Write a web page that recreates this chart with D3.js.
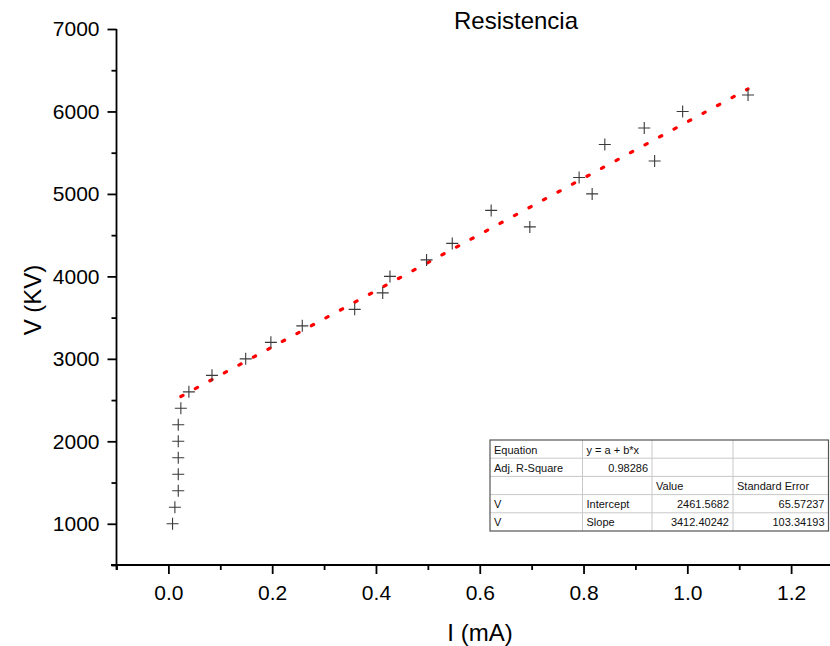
<!DOCTYPE html>
<html>
<head>
<meta charset="utf-8">
<script src="https://cdn.jsdelivr.net/npm/d3@7"></script>
<style>
  html, body { margin: 0; padding: 0; background: #fff; }
  svg { display: block; font-family: "Liberation Sans", Arial, sans-serif; }
</style>
</head>
<body>
<svg id="chart" width="830" height="646"></svg>
<script>
// ---- data ----
const currentMA = [0.008, 0.0125, 0.019, 0.019, 0.019, 0.019, 0.019, 0.024, 0.0395, 0.084,
  0.149, 0.1975, 0.258, 0.359, 0.413, 0.427, 0.4975, 0.547, 0.6965, 0.622,
  0.8166, 0.7915, 0.937, 0.841, 0.917, 0.991, 1.117];
const voltageKV = [1000, 1200, 1400, 1600, 1800, 2000, 2200, 2400, 2600, 2800,
  3000, 3200, 3400, 3600, 3800, 4000, 4200, 4400, 4600, 4800,
  5000, 5200, 5400, 5600, 5800, 6000, 6200];
const fitIntercept = 2461.5682;
const fitSlope = 3412.40242;
const fitRange = [0.024, 1.117];
const xMajorTicks = [0, 0.2, 0.4, 0.6, 0.8, 1.0, 1.2];
const xMinorTicks = [-0.1, 0.1, 0.3, 0.5, 0.7, 0.9, 1.1, 1.3];
const yMajorTicks = [1000, 2000, 3000, 4000, 5000, 6000, 7000];
const yMinorTicks = [500, 1500, 2500, 3500, 4500, 5500, 6500];
const tableRows = [
  ["Equation", "y = a + b*x", "", ""],
  ["Adj. R-Square", "0.98286", "", ""],
  ["", "", "Value", "Standard Error"],
  ["V", "Intercept", "2461.5682", "65.57237"],
  ["V", "Slope", "3412.40242", "103.34193"]
];
const tableAlign = [
  ["start", "start", "start", "start"],
  ["start", "end", "start", "start"],
  ["start", "start", "start", "start"],
  ["start", "start", "end", "end"],
  ["start", "start", "end", "end"]
];
const titleText = "Resistencia";
const xLabel = "I (mA)";
const yLabel = "V (KV)";

// ---- layout ----
const svg = d3.select("#chart");
const x = d3.scaleLinear().domain([-0.1, 1.3]).range([116.5, 843]);
const y = d3.scaleLinear().domain([500, 7000]).range([565, 29]);

// axes
const gx = svg.append("g").attr("transform", "translate(0,565)");
gx.call(d3.axisBottom(x).tickValues(xMajorTicks).tickFormat(d3.format(".1f")).tickSize(9).tickPadding(11));
gx.append("g").call(d3.axisBottom(x).tickValues(xMinorTicks).tickFormat("").tickSize(5));
gx.selectAll(".domain").remove();
gx.selectAll("line").attr("stroke", "#000").attr("stroke-width", 1.8);
gx.selectAll("text").attr("font-size", 21).attr("fill", "#000").attr("font-family", "Liberation Sans, Arial, sans-serif");

const gy = svg.append("g").attr("transform", "translate(116.5,0)");
gy.call(d3.axisLeft(y).tickValues(yMajorTicks).tickFormat(d3.format("d")).tickSize(9).tickPadding(8));
gy.append("g").call(d3.axisLeft(y).tickValues(yMinorTicks).tickFormat("").tickSize(5));
gy.selectAll(".domain").remove();
gy.selectAll("line").attr("stroke", "#000").attr("stroke-width", 1.8);
gy.selectAll("text").attr("font-size", 21).attr("fill", "#000").attr("font-family", "Liberation Sans, Arial, sans-serif");

// axis lines
svg.append("line").attr("x1", 111).attr("x2", 843).attr("y1", y(500)).attr("y2", y(500))
  .attr("stroke", "#000").attr("stroke-width", 1.8);
svg.append("line").attr("x1", x(-0.1)).attr("x2", x(-0.1)).attr("y1", y(7000)).attr("y2", 570)
  .attr("stroke", "#000").attr("stroke-width", 1.8);

// fit line
const fitLine = d3.line().x(d => x(d)).y(d => y(fitIntercept + fitSlope * d));
svg.append("path").datum(fitRange).attr("d", fitLine)
  .attr("fill", "none").attr("stroke", "#ff0000").attr("stroke-width", 3.2)
  .attr("stroke-linecap", "round").attr("stroke-dasharray", "2.5,14");

// crosses
const pts = currentMA.map((c, i) => [c, voltageKV[i]]);
svg.append("g").selectAll("path").data(pts).join("path")
  .attr("d", d => {
    const cx = x(d[0]), cy = y(d[1]), s = 6;
    return `M${cx - s},${cy}H${cx + s}M${cx},${cy - s}V${cy + s}`;
  })
  .attr("stroke", "#3a3a3a").attr("stroke-width", 1.1).attr("fill", "none");

// title and labels
svg.append("text").attr("x", 516).attr("y", 29).attr("text-anchor", "middle")
  .attr("font-size", 24).text(titleText);
svg.append("text").attr("x", 480).attr("y", 641).attr("text-anchor", "middle")
  .attr("font-size", 24).text(xLabel);
svg.append("text").attr("transform", "translate(41,300) rotate(-90)").attr("text-anchor", "middle")
  .attr("font-size", 24).text(yLabel);

// results table
const colEdges = [490, 582.5, 652, 733, 828.5];
const rowTop = 440, rowH = 18.2;
const tbl = svg.append("g");
tbl.append("rect").attr("x", colEdges[0]).attr("y", rowTop)
  .attr("width", colEdges[4] - colEdges[0]).attr("height", rowH * tableRows.length)
  .attr("fill", "#fff").attr("stroke", "none");
for (let r = 1; r < tableRows.length; r++) {
  tbl.append("line").attr("x1", colEdges[0]).attr("x2", colEdges[4])
    .attr("y1", rowTop + r * rowH).attr("y2", rowTop + r * rowH)
    .attr("stroke", "#c8c8c8").attr("stroke-width", 1);
}
for (let c = 1; c < colEdges.length - 1; c++) {
  tbl.append("line").attr("x1", colEdges[c]).attr("x2", colEdges[c])
    .attr("y1", rowTop).attr("y2", rowTop + rowH * tableRows.length)
    .attr("stroke", "#c8c8c8").attr("stroke-width", 1);
}
tbl.append("rect").attr("x", colEdges[0]).attr("y", rowTop)
  .attr("width", colEdges[4] - colEdges[0]).attr("height", rowH * tableRows.length)
  .attr("fill", "none").attr("stroke", "#555").attr("stroke-width", 1.2);
tableRows.forEach((row, r) => {
  row.forEach((txt, c) => {
    if (!txt) return;
    const al = tableAlign[r][c];
    tbl.append("text")
      .attr("x", al === "end" ? colEdges[c + 1] - 4 : colEdges[c] + 4)
      .attr("y", rowTop + r * rowH + 13.5)
      .attr("text-anchor", al)
      .attr("font-size", 11).attr("fill", "#111")
      .text(txt);
  });
});
</script>
</body>
</html>
